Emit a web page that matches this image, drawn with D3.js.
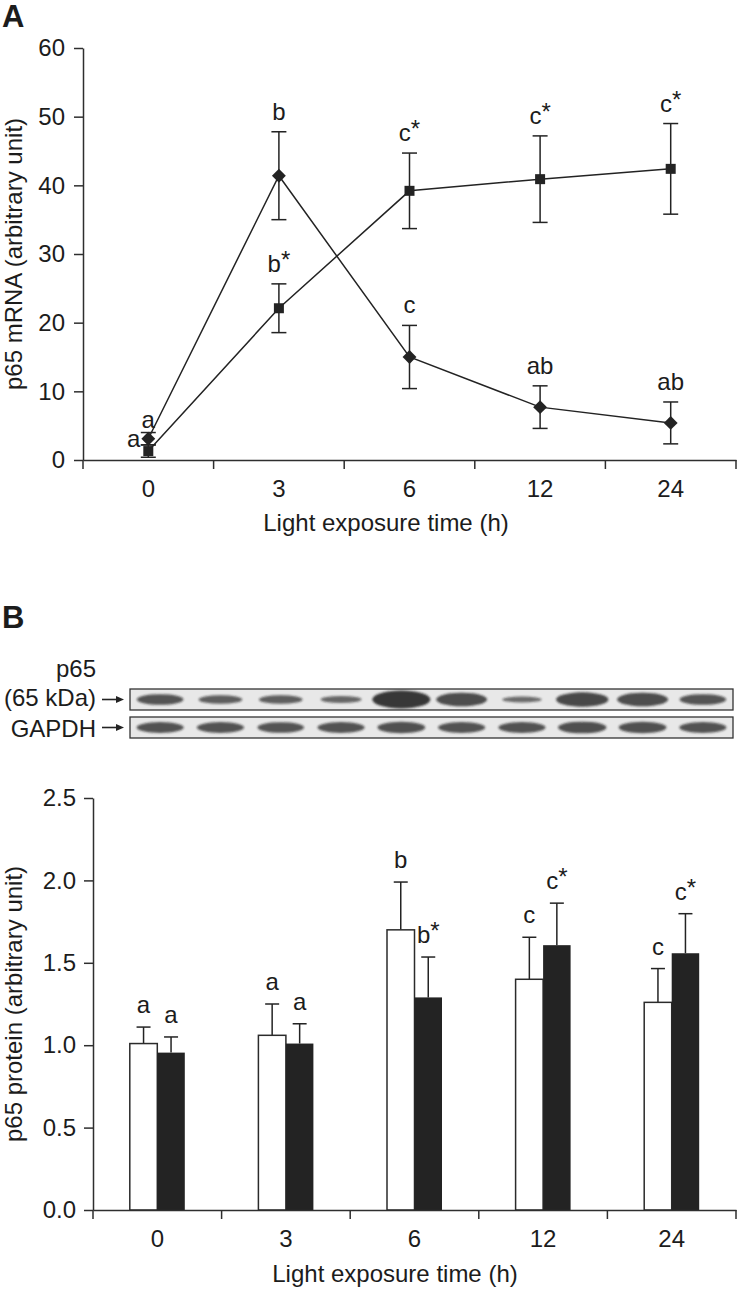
<!DOCTYPE html>
<html>
<head>
<meta charset="utf-8">
<script src="https://cdn.jsdelivr.net/npm/d3@7"></script>
<style>
  body { margin: 0; background: #fff; }
  svg { display: block; font-family: "Liberation Sans", Arial, sans-serif; }
  text { fill: #1c1c1c; }
</style>
</head>
<body>
<svg id="fig" width="737" height="1291"></svg>
<script>
// panel A: p65 mRNA
const times = ["0", "3", "6", "12", "24"];
const diamondMean = [3.1, 41.4, 15.0, 7.7, 5.4];
const diamondSD = [0.9, 6.4, 4.6, 3.1, 3.05];
const diamondLabel = ["a", "b", "c", "ab", "ab"];
const squareMean = [1.3, 22.1, 39.2, 40.9, 42.4];
const squareSD = [0.9, 3.55, 5.5, 6.3, 6.6];
const squareLabel = ["a", "b*", "c*", "c*", "c*"];
const mrnaTicks = [0, 10, 20, 30, 40, 50, 60];

// panel B: p65 protein
const whiteMean = [1.01, 1.06, 1.70, 1.40, 1.26];
const whiteSD = [0.10, 0.19, 0.29, 0.255, 0.205];
const whiteLabel = ["a", "a", "b", "c", "c"];
const blackMean = [0.955, 1.01, 1.29, 1.607, 1.558];
const blackSD = [0.095, 0.12, 0.245, 0.255, 0.24];
const blackLabel = ["a", "a", "b*", "c*", "c*"];
const proteinTicks = [0, 0.5, 1, 1.5, 2, 2.5];

// western blot, relative band strength per lane
const blotLanes = d3.range(10);
const p65Band = [0.6, 0.5, 0.5, 0.4, 1.0, 0.75, 0.35, 0.8, 0.75, 0.6];
const gapdhBand = [0.62, 0.62, 0.6, 0.62, 0.64, 0.62, 0.62, 0.66, 0.64, 0.62];

const ink = "#232323";
const svg = d3.select("#fig");

function styleAxis(g) {
  g.attr("font-size", 24).attr("font-family", null);
  g.selectAll("path, line").attr("stroke", "#2e2e2e").attr("stroke-width", 1.5);
  g.selectAll("text").attr("fill", "#1c1c1c");
}

function addLabel(g, x, y, str, anchor) {
  const t = g.append("text")
    .attr("x", x).attr("y", y)
    .attr("font-size", 24)
    .attr("text-anchor", anchor || "middle");
  t.append("tspan").text(str.replace("*", ""));
  if (str.includes("*")) t.append("tspan").attr("dy", -4).text("*");
}

function xAxisWithBoundaries(g, x) {
  g.call(d3.axisBottom(x).tickSize(0).tickPadding(20).tickSizeOuter(0));
  g.selectAll(".tick line").remove();
  const bounds = [x.range()[0]].concat(x.domain().map(d => x(d) + x.bandwidth()));
  g.selectAll(".bound").data(bounds).join("line")
    .attr("class", "bound")
    .attr("x1", d => d).attr("x2", d => d)
    .attr("y1", 0).attr("y2", 9);
  styleAxis(g);
}

// ---------- Panel A ----------
svg.append("text").attr("x", 2).attr("y", 27)
  .attr("font-size", 31).attr("font-weight", "bold").text("A");

const xA = d3.scaleBand().domain(times).range([83, 736]);
const yA = d3.scaleLinear().domain([0, 60]).range([460, 48]);
const cxA = t => xA(t) + xA.bandwidth() / 2;

svg.append("g").attr("transform", "translate(83,0)")
  .call(d3.axisLeft(yA).tickValues(mrnaTicks).tickSize(9).tickPadding(9).tickSizeOuter(0))
  .call(styleAxis);

xAxisWithBoundaries(svg.append("g").attr("transform", "translate(0,460)"), xA);

svg.append("text")
  .attr("transform", "translate(22,254) rotate(-90)")
  .attr("text-anchor", "middle").attr("font-size", 24)
  .text("p65 mRNA (arbitrary unit)");
svg.append("text").attr("x", 386).attr("y", 531)
  .attr("text-anchor", "middle").attr("font-size", 24)
  .text("Light exposure time (h)");

const seriesA = [
  { mean: diamondMean, sd: diamondSD, label: diamondLabel, shape: "diamond" },
  { mean: squareMean, sd: squareSD, label: squareLabel, shape: "square" }
];

const line = d3.line().x((d, i) => cxA(times[i])).y(d => yA(d));
const gA = svg.append("g");

seriesA.forEach(s => {
  gA.append("path")
    .attr("d", line(s.mean))
    .attr("fill", "none").attr("stroke", ink).attr("stroke-width", 1.5);
});

seriesA.forEach(s => {
  const eb = gA.append("g").attr("stroke", ink).attr("stroke-width", 1.5);
  times.forEach((t, i) => {
    const x = cxA(t), top = yA(s.mean[i] + s.sd[i]), bot = yA(s.mean[i] - s.sd[i]);
    eb.append("line").attr("x1", x).attr("x2", x).attr("y1", top).attr("y2", bot);
    eb.append("line").attr("x1", x - 7.5).attr("x2", x + 7.5).attr("y1", top).attr("y2", top);
    eb.append("line").attr("x1", x - 7.5).attr("x2", x + 7.5).attr("y1", bot).attr("y2", bot);
  });
});

seriesA.forEach(s => {
  const sym = d3.symbol().type(d3.symbolSquare).size(s.shape === "diamond" ? 96 : 100);
  gA.selectAll(null).data(s.mean).join("path")
    .attr("d", sym)
    .attr("fill", ink)
    .attr("transform", (d, i) => `translate(${cxA(times[i])},${yA(d)})` + (s.shape === "diamond" ? " rotate(45)" : ""));
});

// letters above points; at 0 h the square letter sits to the left
seriesA.forEach(s => {
  times.forEach((t, i) => {
    const x = cxA(t);
    if (i === 0 && s.shape === "square") {
      addLabel(gA, x - 8, yA(s.mean[i]) - 4, s.label[i], "end");
    } else if (i === 0) {
      addLabel(gA, x, yA(s.mean[i] + s.sd[i]) - 5, s.label[i]);
    } else {
      addLabel(gA, x, yA(s.mean[i] + s.sd[i]) - 12, s.label[i]);
    }
  });
});

// ---------- Panel B ----------
svg.append("text").attr("x", 2).attr("y", 628)
  .attr("font-size", 31).attr("font-weight", "bold").text("B");

// blot strips
const defs = svg.append("defs");
defs.append("filter").attr("id", "blur")
  .attr("x", "-30%").attr("y", "-80%").attr("width", "160%").attr("height", "260%")
  .append("feGaussianBlur").attr("stdDeviation", 1.3);

const lane = d3.scaleBand().domain(blotLanes).range([130, 733]);
const bandRx = d3.scaleLinear().domain([0.3, 1]).range([19, 29]);
const bandRy = d3.scaleLinear().domain([0.3, 1]).range([2.5, 9]);
const bandAlpha = d3.scaleLinear().domain([0.3, 1]).range([0.6, 0.88]);

const strips = [
  { name: "p65", values: p65Band, top: 689 },
  { name: "gapdh", values: gapdhBand, top: 717 }
];
strips.forEach(st => {
  const g = svg.append("g");
  defs.append("clipPath").attr("id", "clip-" + st.name)
    .append("rect").attr("x", 130).attr("y", st.top).attr("width", 603).attr("height", 21);
  g.append("rect").attr("x", 130).attr("y", st.top).attr("width", 603).attr("height", 21)
    .attr("fill", "#e8e8e8");
  g.append("g").attr("clip-path", `url(#clip-${st.name})`)
    .selectAll("ellipse").data(st.values).join("ellipse")
    .attr("cx", (d, i) => lane(blotLanes[i]) + lane.bandwidth() / 2)
    .attr("cy", st.top + 10.5)
    .attr("rx", d => bandRx(d))
    .attr("ry", d => bandRy(d))
    .attr("fill", "#1e1e1e")
    .attr("fill-opacity", d => bandAlpha(d))
    .attr("filter", "url(#blur)");
  g.append("rect").attr("x", 130).attr("y", st.top).attr("width", 603).attr("height", 21)
    .attr("fill", "none").attr("stroke", "#333").attr("stroke-width", 1.3);
  // arrow
  const ay = st.top + 10.5;
  g.append("line").attr("x1", 102).attr("x2", 118).attr("y1", ay).attr("y2", ay)
    .attr("stroke", ink).attr("stroke-width", 1.6);
  g.append("path").attr("d", `M124,${ay}L116,${ay - 3.5}L116,${ay + 3.5}Z`).attr("fill", ink);
});

svg.append("text").attr("x", 96).attr("y", 677).attr("text-anchor", "end").attr("font-size", 24).text("p65");
svg.append("text").attr("x", 96).attr("y", 706).attr("text-anchor", "end").attr("font-size", 24).text("(65 kDa)");
svg.append("text").attr("x", 96).attr("y", 737).attr("text-anchor", "end").attr("font-size", 24).text("GAPDH");

// bar chart
const xB = d3.scaleBand().domain(times).range([93, 736]);
const yB = d3.scaleLinear().domain([0, 2.5]).range([1210, 798]);
const barW = 27.5;
const xSub = d3.scaleBand().domain(["white", "black"])
  .range([xB.bandwidth() / 2 - barW, xB.bandwidth() / 2 + barW]);

svg.append("g").attr("transform", "translate(93,0)")
  .call(d3.axisLeft(yB).tickValues(proteinTicks).tickFormat(d3.format(".1f"))
    .tickSize(9).tickPadding(8).tickSizeOuter(0))
  .call(styleAxis);

svg.append("text")
  .attr("transform", "translate(22,1004) rotate(-90)")
  .attr("text-anchor", "middle").attr("font-size", 24)
  .text("p65 protein (arbitrary unit)");
svg.append("text").attr("x", 395).attr("y", 1282)
  .attr("text-anchor", "middle").attr("font-size", 24)
  .text("Light exposure time (h)");

const groups = [
  { key: "white", mean: whiteMean, sd: whiteSD, label: whiteLabel },
  { key: "black", mean: blackMean, sd: blackSD, label: blackLabel }
];

const gB = svg.append("g");
groups.forEach(s => {
  const bx = t => xB(t) + xSub(s.key);
  gB.append("g").selectAll("line").data(s.mean).join("line")
    .attr("x1", (d, i) => bx(times[i]) + barW / 2).attr("x2", (d, i) => bx(times[i]) + barW / 2)
    .attr("y1", d => yB(d))
    .attr("y2", (d, i) => yB(d + s.sd[i]))
    .attr("stroke", ink).attr("stroke-width", 1.5);
  gB.append("g").selectAll("line").data(s.mean).join("line")
    .attr("x1", (d, i) => bx(times[i]) + barW / 2 - 7).attr("x2", (d, i) => bx(times[i]) + barW / 2 + 7)
    .attr("y1", (d, i) => yB(d + s.sd[i])).attr("y2", (d, i) => yB(d + s.sd[i]))
    .attr("stroke", ink).attr("stroke-width", 1.5);
  gB.append("g").selectAll("rect").data(s.mean).join("rect")
    .attr("x", (d, i) => bx(times[i]))
    .attr("y", d => yB(d))
    .attr("width", xSub.bandwidth())
    .attr("height", d => yB(0) - yB(d))
    .attr("fill", s.key === "white" ? "#fff" : ink)
    .attr("stroke", "#2b2b2b").attr("stroke-width", s.key === "white" ? 1.5 : 0);
  times.forEach((t, i) => {
    addLabel(gB, bx(t) + barW / 2, yB(s.mean[i] + s.sd[i]) - 14, s.label[i]);
  });
});

xAxisWithBoundaries(svg.append("g").attr("transform", "translate(0,1210)"), xB);
</script>
</body>
</html>
